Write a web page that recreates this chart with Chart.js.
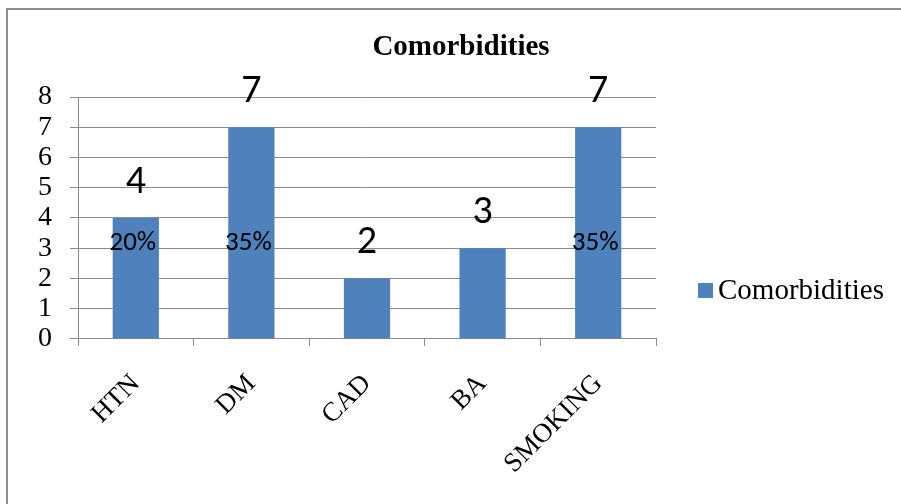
<!DOCTYPE html>
<html>
<head>
<meta charset="utf-8">
<script src="https://cdn.jsdelivr.net/npm/chart.js@4/dist/chart.umd.min.js"></script>
<style>
    html, body { margin: 0; padding: 0; background: #fff; overflow: hidden; }
    #wrap { position: relative; width: 901px; height: 504px; }
    #frame { position: absolute; left: 6px; top: 8px; width: 1000px; height: 1000px; border: 2px solid #8e8e8e; }
    canvas { position: absolute; left: 0; top: 0; }
</style>
</head>
<body>
<div id="wrap">
    <div id="frame"></div>
    <canvas id="chart" width="901" height="504"></canvas>
</div>
<script>
    var categories = ['HTN', 'DM', 'CAD', 'BA', 'SMOKING'];
    var counts = [4, 7, 2, 3, 7];
    var percents = ['20%', '35%', '', '', '35%'];
    var percentLevel = 3;
    var seriesName = 'Comorbidities';

    var serif = '"Liberation Serif", "Times New Roman", serif';
    var sans = 'Carlito, Lato, "Liberation Sans", sans-serif';
    var gridColor = '#8a8a8a';

    // value labels above the bars and the percent labels inside them
    var barLabels = {
        id: 'barLabels',
        afterDatasetsDraw: function(chart) {
            var ctx = chart.ctx;
            var meta = chart.getDatasetMeta(0);
            var yLevel = chart.scales.y.getPixelForValue(percentLevel);
            ctx.save();
            ctx.fillStyle = '#000';
            ctx.textAlign = 'center';
            meta.data.forEach(function(bar, i) {
                ctx.font = '40px ' + sans;
                ctx.textBaseline = 'alphabetic';
                ctx.fillText(String(counts[i]), bar.x, bar.y - 25);
                if (percents[i]) {
                    ctx.font = '27px ' + sans;
                    ctx.textBaseline = 'middle';
                    ctx.fillText(percents[i], bar.x - 3, yLevel - 5);
                }
            });
            ctx.restore();
        }
    };

    // title centred on the whole frame, legend on the right with the box close to the text
    var frameText = {
        id: 'frameText',
        afterDraw: function(chart) {
            var ctx = chart.ctx;
            ctx.save();
            ctx.fillStyle = '#000';
            ctx.font = 'bold 29px ' + serif;
            ctx.textAlign = 'center';
            ctx.textBaseline = 'middle';
            ctx.fillText(seriesName, 461, 48);

            var x = chart.chartArea.right + 42;
            var y = 290;
            chart.data.datasets.forEach(function(ds) {
                ctx.fillStyle = ds.backgroundColor;
                ctx.fillRect(x, y - 7, 15, 15);
                ctx.fillStyle = '#000';
                ctx.font = '29px ' + serif;
                ctx.textBaseline = 'middle';
                ctx.textAlign = 'left';
                ctx.fillText(ds.label, x + 20, y + 1);
                y += 34;
            });
            ctx.restore();
        }
    };

    new Chart(document.getElementById('chart').getContext('2d'), {
        type: 'bar',
        data: {
            labels: categories,
            datasets: [{
                label: seriesName,
                data: counts,
                backgroundColor: '#4f81bd',
                borderWidth: 0,
                categoryPercentage: 1,
                barPercentage: 0.4
            }]
        },
        options: {
            responsive: false,
            animation: false,
            layout: { padding: { left: 20, right: 245, top: 97, bottom: 2 } },
            plugins: {
                title: { display: false },
                legend: { display: false },
                tooltip: { enabled: false }
            },
            scales: {
                x: {
                    grid: { offset: true, drawOnChartArea: false, drawTicks: true, tickLength: 7, color: gridColor },
                    border: { display: true, color: gridColor },
                    ticks: {
                        color: '#000',
                        font: { family: serif, size: 27 },
                        minRotation: 45,
                        maxRotation: 45,
                        padding: 22
                    },
                    afterFit: function(scale) {
                        // the rotated first label may hang past the y axis, as in the original
                        scale.paddingLeft = 0;
                    }
                },
                y: {
                    min: 0,
                    max: 8,
                    grid: { color: gridColor, tickLength: 8 },
                    border: { display: true, color: gridColor },
                    ticks: {
                        stepSize: 1,
                        autoSkip: false,
                        color: '#000',
                        font: { family: serif, size: 28 },
                        padding: 18
                    }
                }
            }
        },
        plugins: [barLabels, frameText]
    });
</script>
</body>
</html>
